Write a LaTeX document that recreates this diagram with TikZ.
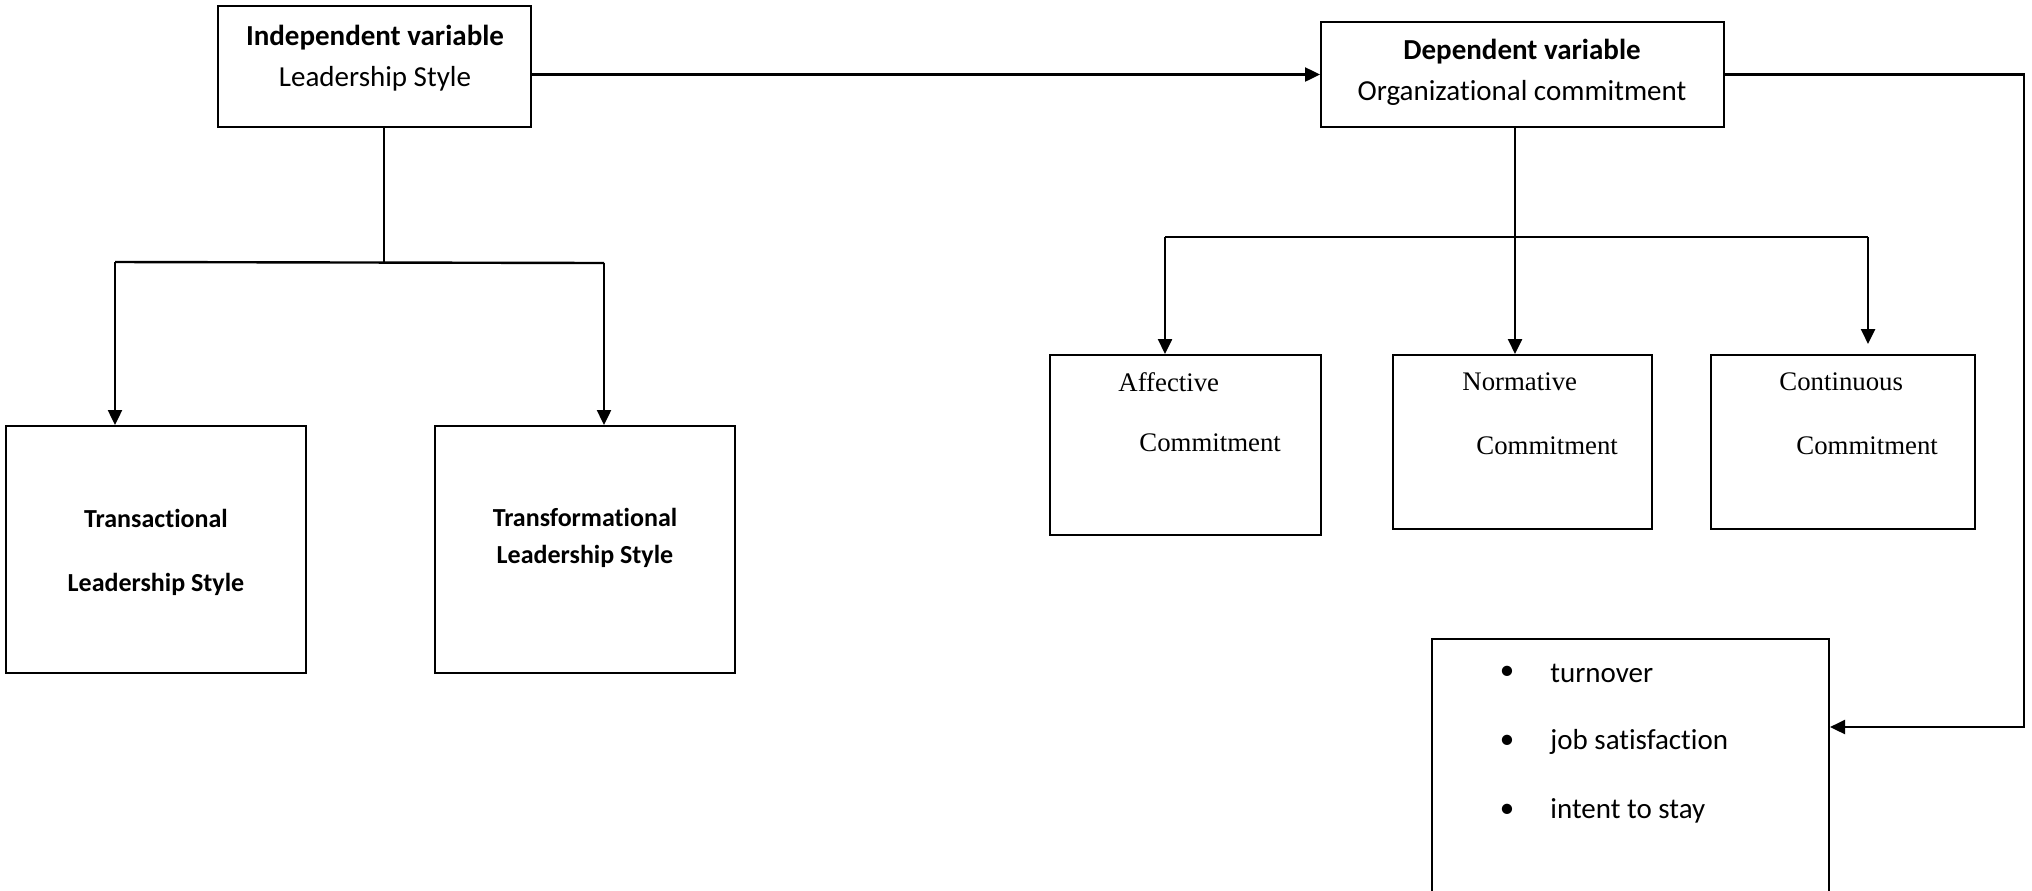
\documentclass[tikz,border=0pt]{standalone}
\usepackage{fontspec}
\setmainfont[Ligatures=NoCommon]{Carlito}
\newfontfamily\timesfont{Liberation Serif}
\usetikzlibrary{positioning,calc,arrows.meta}

\begin{document}
\begin{tikzpicture}[
		x=0.5pt, y=-0.5pt,
		box/.style={draw=black, line width=1pt, inner sep=0pt},
		arr/.style={draw=black, line width=1.2pt, -{Triangle[length=7.5pt,width=7pt]}},
		link/.style={draw=black, line width=1.2pt},
		headtext/.style={font=\fontsize{14.5}{20.5}\selectfont, align=center},
		subtext/.style={font=\bfseries\fontsize{13}{18.5}\selectfont, align=center},
		comtext/.style={font=\timesfont\fontsize{13.4}{16}\selectfont, anchor=west, inner sep=0pt},
		listtext/.style={font=\fontsize{14.5}{18}\selectfont, inner sep=0pt}
	]
	\useasboundingbox (0,0) rectangle (2032,890);
	
	% Hai biến chính
	\node[box, minimum width=156.5pt, minimum height=60.5pt] (iv) at (374.5,66.5) {};
	\node[headtext] (ivtext) at (375,58) {\textbf{Independent variable}\\Leadership Style};
	
	\node[box, minimum width=201.5pt, minimum height=52.5pt] (dv) at (1522.5,74.5) {};
	\node[headtext] (dvtext) at (1522,72) {\textbf{Dependent variable}\\Organizational commitment};
	
	% Hai kiểu lãnh đạo
	\node[box, minimum width=150pt, minimum height=123.5pt] (trans) at (156,549.5) {};
	\node[subtext, font=\bfseries\fontsize{13}{32}\selectfont] (transtext) at (156,552) {Transactional\\Leadership Style};
	
	\node[box, minimum width=150pt, minimum height=123.5pt] (transf) at (585,549.5) {};
	\node[subtext] (transftext) at (585,538) {Transformational\\Leadership Style};
	
	% Ba dạng cam kết
	\node[box, minimum width=135.5pt, minimum height=90pt] (aff) at (1185.5,445) {};
	\node[comtext] (afftop) at (1118,382) {Affective};
	\node[comtext] (affbot) at (1139,443) {Commitment};
	
	\node[box, minimum width=129.5pt, minimum height=87pt] (norm) at (1522.5,442) {};
	\node[comtext] (normtop) at (1462,382) {Normative};
	\node[comtext] (normbot) at (1476,446) {Commitment};
	
	\node[box, minimum width=132pt, minimum height=87pt] (cont) at (1843,442) {};
	\node[comtext] (conttop) at (1779,382) {Continuous};
	\node[comtext] (contbot) at (1796,446) {Commitment};
	
	% Hộp kết quả (bị cắt ở đáy)
	\node[box, minimum width=198.5pt, minimum height=130.5pt] (out) at (1630.5,769.5) {};
	\foreach \txt [count=\i] in {turnover, job satisfaction, intent to stay} {
		\pgfmathsetmacro\yy{673+(\i-1)*69}
		\node[listtext] (bul\i) at (1507,\yy) {\textbullet};
		\node[listtext, anchor=west] (item\i) at (1550,\yy) {\txt};
	}
	
	% Nhánh trái
	\coordinate (ljoin) at (384,262.5);
	\coordinate (lleft) at (115,262);
	\coordinate (lright) at (604,263);
	\draw[link] (iv.south -| ljoin) -- (ljoin);
	\draw[link] (lleft) -- (lright);
	\draw[arr] (lleft) -- (lleft |- trans.north);
	\draw[arr] (lright) -- (lright |- transf.north);
	
	% Mũi tên giữa hai biến
	\draw[arr] (iv.east |- dv.west) -- (dv.west);
	
	% Nhánh phải
	\coordinate (rjoin) at (1515,237);
	\coordinate (rleft) at (1165,237);
	\coordinate (rright) at (1868,237);
	\draw[link] (rleft) -- (rright);
	\draw[arr] (dv.south -| rjoin) -- (rjoin |- norm.north);
	\draw[arr] (rleft) -- (rleft |- aff.north);
	\draw[arr] (rright) -- ([yshift=5pt]rright |- cont.north);
	
	% Đường vòng sang hộp kết quả
	\coordinate (bend) at (2024,727);
	\draw[arr] (dv.east) -| (bend) -- (out.east |- bend);
	
\end{tikzpicture}
\end{document}
